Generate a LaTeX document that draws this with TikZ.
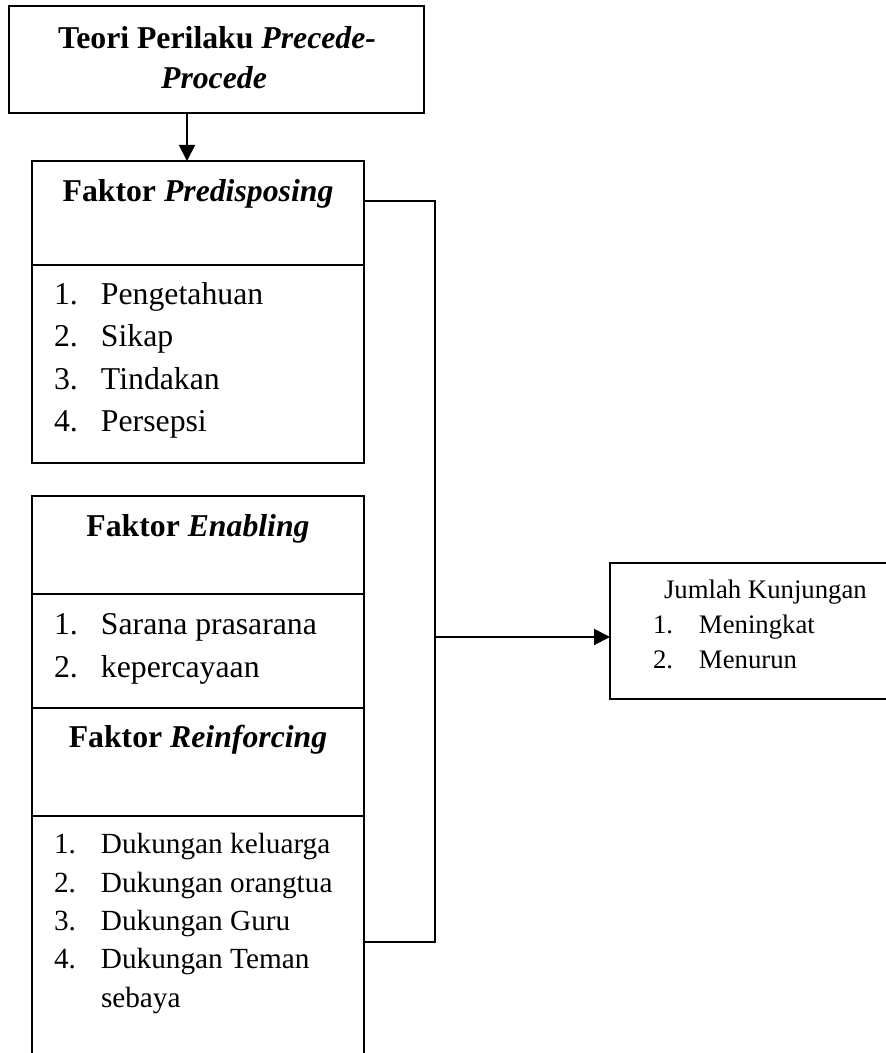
\documentclass[tikz,border=0pt]{standalone}
\usepackage{fontspec}
\setmainfont{Liberation Serif}
\usetikzlibrary{arrows.meta}

\tikzset{
  kotak/.style={draw, inner sep=0pt, outer sep=0pt},
  judul/.style={font=\fontsize{12.7}{15}\selectfont\bfseries, anchor=base, inner sep=0pt},
  butir/.style={font=\fontsize{12.7}{15}\selectfont, anchor=base west, inner sep=0pt},
  butirkecil/.style={font=\fontsize{11.7}{14}\selectfont, anchor=base west, inner sep=0pt},
  hasilteks/.style={font=\fontsize{10.7}{13}\selectfont, anchor=base west, inner sep=0pt},
  panah/.style={-{Triangle[length=6.4pt,width=6.4pt]}}
}

\begin{document}
\begin{tikzpicture}[x=0.4pt,y=-0.4pt,line width=0.8pt]
            \useasboundingbox (0,0) rectangle (886,1053);
            % kotak teori
            \node[kotak, minimum width=166pt, minimum height=42.8pt] (teori) at (216.5,59.5) {};
            \node[judul] (teori1) at (217,48) {Teori Perilaku \textit{Precede-}};
            \node[judul] (teori2) at (214,88) {\textit{Procede}};
            % faktor predisposing
            \node[kotak, minimum width=132.8pt, minimum height=120.8pt] (predis) at (198,312) {};
            \draw (32,265) -- (364,265);
            \node[judul] (predisjudul) at (198,201) {Faktor \textit{Predisposing}};
            \node[butir] (p1) at (53,304) {\makebox[18.8pt][l]{1.}Pengetahuan};
            \node[butir] (p2) at (53,346) {\makebox[18.8pt][l]{2.}Sikap};
            \node[butir] (p3) at (53,389) {\makebox[18.8pt][l]{3.}Tindakan};
            \node[butir] (p4) at (53,431) {\makebox[18.8pt][l]{4.}Persepsi};
            % faktor enabling
            \node[kotak, minimum width=132.8pt, minimum height=84.8pt] (enab) at (198,602) {};
            \draw (32,594) -- (364,594);
            \node[judul] (enabjudul) at (198,536) {Faktor \textit{Enabling}};
            \node[butir] (e1) at (53,634) {\makebox[18.8pt][l]{1.}Sarana prasarana};
            \node[butir] (e2) at (53,677) {\makebox[18.8pt][l]{2.}kepercayaan};
            % faktor reinforcing
            \draw (32,1053) -- (32,708) -- (364,708) -- (364,1053);
            \draw (32,816) -- (364,816);
            \node[judul] (reinjudul) at (198,747) {Faktor \textit{Reinforcing}};
            \node[butirkecil] (r1) at (53,853) {\makebox[18.8pt][l]{1.}Dukungan keluarga};
            \node[butirkecil] (r2) at (53,892) {\makebox[18.8pt][l]{2.}Dukungan orangtua};
            \node[butirkecil] (r3) at (53,930) {\makebox[18.8pt][l]{3.}Dukungan Guru};
            \node[butirkecil] (r4) at (53,968) {\makebox[18.8pt][l]{4.}Dukungan Teman};
            \node[butirkecil] (r5) at (100,1007) {sebaya};
            % jumlah kunjungan
            \draw (886,563) -- (610,563) -- (610,699) -- (886,699);
            \node[hasilteks] (hasiljudul) at (663,598) {Jumlah Kunjungan};
            \node[hasilteks] (h1) at (652,633) {\makebox[18.4pt][l]{1.}Meningkat};
            \node[hasilteks] (h2) at (652,668) {\makebox[18.4pt][l]{2.}Menurun};
            % penghubung
            \coordinate (panahx) at (187,0);
            \coordinate (sudutatas) at (435,201);
            \coordinate (sudutbawah) at (435,942);
            \coordinate (hasilkiri) at (610,637);
            \draw[panah] (teori.south -| panahx) -- (predis.north -| panahx);
            \draw (predis.east |- sudutatas) -- (sudutatas) -- (sudutbawah) -- (sudutbawah -| predis.east);
            \draw[panah] (sudutatas |- hasilkiri) -- (hasilkiri);
        \end{tikzpicture}
\end{document}
